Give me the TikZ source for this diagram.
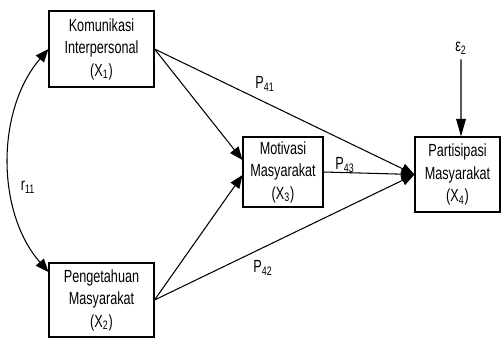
\documentclass[tikz,border=0pt]{standalone}
\usepackage{fontspec}
\setmainfont[FakeStretch=0.72]{Liberation Sans}
\usetikzlibrary{arrows.meta}
\begin{document}
\begin{tikzpicture}[x=0.02cm,y=-0.02cm,
  box/.style={draw=black, line width=0.6pt, align=center, inner sep=0pt,
    font=\fontsize{10}{12.8}\selectfont},
  lbl/.style={inner sep=0pt, font=\fontsize{10}{12}\selectfont},
  conn/.style={line width=0.6pt, -{Triangle[length=7.5pt,width=6pt]}},
  dconn/.style={line width=0.6pt, {Triangle[length=7.5pt,width=6pt]}-{Triangle[length=7.5pt,width=6pt]}},
  econn/.style={line width=0.6pt, -{Triangle[length=10pt,width=5.5pt]}}]
\useasboundingbox (0,0) rectangle (502,339);
\node[box, minimum width=2.1cm, minimum height=1.52cm] (x1) at (101.5,49) {Komunikasi\\Interpersonal\\(X\textsubscript{1})};
\node[box, minimum width=2.1cm, minimum height=1.48cm] (x2) at (101.5,300) {Pengetahuan\\Masyarakat\\(X\textsubscript{2})};
\node[box, minimum width=1.6cm, minimum height=1.4cm] (x3) at (283,172) {Motivasi\\Masyarakat\\(X\textsubscript{3})};
\node[box, minimum width=1.7cm, minimum height=1.5cm] (x4) at (457.5,174.5) {Partisipasi\\Masyarakat\\(X\textsubscript{4})};
\node[lbl] (eps) at (461,48) {ε\textsubscript{2}};
\node[lbl] (p41) at (265,84) {P\textsubscript{41}};
\node[lbl] (p43) at (345,165) {P\textsubscript{43}};
\node[lbl] (p42) at (263,268) {P\textsubscript{42}};
\node[lbl] (r11) at (28,187) {r\textsubscript{11}};
\draw[conn] (x1.east) -- ([yshift=0.24cm]x3.west);
\draw[conn] (x2.east) -- ([yshift=-0.06cm]x3.west);
\draw[conn] (x1.east) -- (x4.west);
\draw[conn] (x2.east) -- (x4.west);
\draw[conn] (x3.east) -- (x4.west);
\draw[econn, shorten <=0.1cm] (eps) -- ([xshift=0.07cm]x4.north);
\draw[dconn] (x1.west) .. controls (-4,110) and (-4,212) .. ([yshift=0.56cm]x2.west);
\end{tikzpicture}
\end{document}
